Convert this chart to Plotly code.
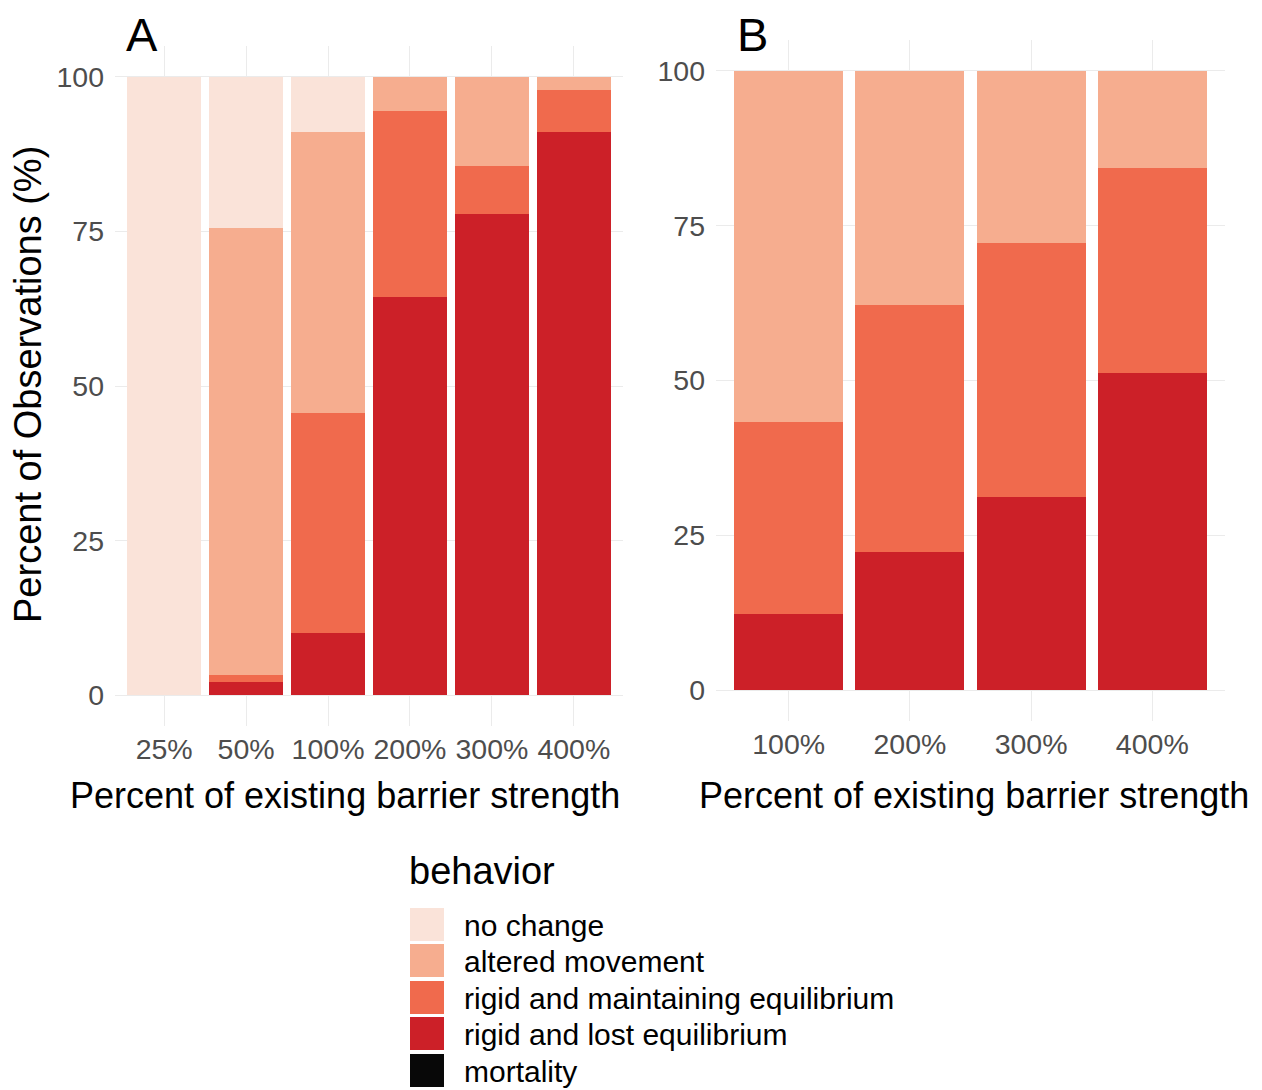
import plotly.graph_objects as go

# page body adds an 8px margin; compensate so reference pixel p maps to p - OFF in the figure
OFF = 8
W, H = 1262 - OFF, 1090 - OFF

behaviors = ["no change", "altered movement", "rigid and maintaining equilibrium",
             "rigid and lost equilibrium", "mortality"]
colors = ["#FAE3D9", "#F6AD8F", "#F06A4D", "#CC2028", "#080808"]

cats_a = ["25%", "50%", "100%", "200%", "300%", "400%"]
a_no_change = [100.0, 24.4, 8.9, 0.0, 0.0, 0.0]
a_altered = [0.0, 72.4, 45.5, 5.5, 14.4, 2.1]
a_maintain = [0.0, 1.1, 35.6, 30.1, 7.8, 6.8]
a_lost = [0.0, 2.1, 10.0, 64.4, 77.8, 91.1]
a_mortality = [0.0, 0.0, 0.0, 0.0, 0.0, 0.0]

cats_b = ["100%", "200%", "300%", "400%"]
b_no_change = [0.0, 0.0, 0.0, 0.0]
b_altered = [56.7, 37.8, 27.8, 15.7]
b_maintain = [31.0, 39.9, 41.0, 33.1]
b_lost = [12.3, 22.3, 31.2, 51.2]
b_mortality = [0.0, 0.0, 0.0, 0.0]

y_ticks = [0, 25, 50, 75, 100]

FONT = "Liberation Sans, Arial, sans-serif"
TICK_COL = "#4D4D4D"
GRID = "#EBEBEB"

fig = go.Figure()

# stacking order bottom -> top: mortality, lost, maintain, altered, no change
series_a = [a_mortality, a_lost, a_maintain, a_altered, a_no_change]
series_b = [b_mortality, b_lost, b_maintain, b_altered, b_no_change]
order = [4, 3, 2, 1, 0]
for k, idx in enumerate(order):
    fig.add_trace(go.Bar(x=cats_a, y=series_a[k], name=behaviors[idx],
                         marker=dict(color=colors[idx], line=dict(width=0)),
                         xaxis="x", yaxis="y", showlegend=False, width=0.9))
    fig.add_trace(go.Bar(x=cats_b, y=series_b[k], name=behaviors[idx],
                         marker=dict(color=colors[idx], line=dict(width=0)),
                         xaxis="x2", yaxis="y2", showlegend=False, width=0.9))

def px_x(p):
    return (p - OFF) / W

def px_y(p):
    return 1 - (p - OFF) / H

axis_common = dict(showgrid=True, gridcolor=GRID, gridwidth=1.2, zeroline=False,
                   showline=False, ticks="", tickfont=dict(family=FONT, size=28.5, color=TICK_COL))

fig.update_layout(
    width=W, height=H, margin=dict(l=0, r=0, t=0, b=0),
    paper_bgcolor="white", plot_bgcolor="white",
    barmode="stack", showlegend=False,
    xaxis=dict(domain=[px_x(115), px_x(623)], anchor="y", type="category",
               categoryorder="array", categoryarray=cats_a, range=[-0.6, 5.6],
               ticklabelstandoff=3, **axis_common),
    yaxis=dict(domain=[px_y(726), px_y(46)], anchor="x", range=[-5, 105],
               tickvals=y_ticks, ticktext=[str(v) for v in y_ticks],
               ticklabelstandoff=10, **axis_common),
    xaxis2=dict(domain=[px_x(716), px_x(1225)], anchor="y2", type="category",
                categoryorder="array", categoryarray=cats_b, range=[-0.6, 3.6],
                ticklabelstandoff=3, **axis_common),
    yaxis2=dict(domain=[px_y(721), px_y(40)], anchor="x2", range=[-5, 105],
                tickvals=y_ticks, ticktext=[str(v) for v in y_ticks],
                ticklabelstandoff=10, **axis_common),
)

ann = []
ann.append(dict(text="Percent of existing barrier strength", x=px_x(345), y=px_y(795),
                xref="paper", yref="paper", showarrow=False, xanchor="center", yanchor="middle",
                font=dict(family=FONT, size=36, color="black")))
ann.append(dict(text="Percent of existing barrier strength", x=px_x(974), y=px_y(795),
                xref="paper", yref="paper", showarrow=False, xanchor="center", yanchor="middle",
                font=dict(family=FONT, size=36, color="black")))
ann.append(dict(text="Percent of Observations (%)", x=px_x(28), y=px_y(385),
                xref="paper", yref="paper", showarrow=False, xanchor="center", yanchor="middle",
                textangle=-90, font=dict(family=FONT, size=38, color="black")))
ann.append(dict(text="A", x=px_x(142), y=px_y(35), xref="paper", yref="paper",
                showarrow=False, xanchor="center", yanchor="middle",
                font=dict(family=FONT, size=47, color="black")))
ann.append(dict(text="B", x=px_x(752), y=px_y(35), xref="paper", yref="paper",
                showarrow=False, xanchor="center", yanchor="middle",
                font=dict(family=FONT, size=47, color="black")))
ann.append(dict(text="behavior", x=px_x(407), y=px_y(871), xref="paper", yref="paper",
                showarrow=False, xanchor="left", yanchor="middle",
                font=dict(family=FONT, size=38, color="black")))

shapes = []
row_tops = [908, 944, 981, 1017, 1054]
for i, name in enumerate(behaviors):
    top = row_tops[i]
    shapes.append(dict(type="rect", xref="paper", yref="paper",
                       x0=px_x(410), x1=px_x(444), y0=px_y(top + 33), y1=px_y(top),
                       fillcolor=colors[i], line=dict(width=0)))
    ann.append(dict(text=name, x=px_x(462), y=px_y(top + 17), xref="paper", yref="paper",
                    showarrow=False, xanchor="left", yanchor="middle",
                    font=dict(family=FONT, size=30, color="black")))

fig.update_layout(annotations=ann, shapes=shapes)
fig.write_html("out.html")
